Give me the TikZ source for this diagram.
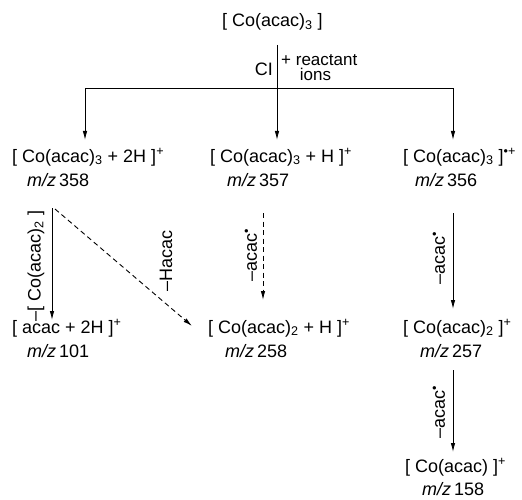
\documentclass[tikz,border=0pt]{standalone}
\usepackage{fontspec}
\setmainfont{Liberation Sans}
\usetikzlibrary{arrows.meta}

\tikzset{
  rx/.style={-{Latex[length=9pt,width=4.5pt]}, line width=0.9pt},
  rxd/.style={rx, dash pattern=on 5pt off 3.5pt},
  ion/.style={anchor=base west, inner sep=0pt, font=\fontsize{18}{21}\selectfont},
  loss/.style={rotate=90, inner sep=0pt, font=\fontsize{18}{21}\selectfont}
}
\newcommand{\mz}[1]{\textit{m/z}\,#1}

\begin{document}
\begin{tikzpicture}[x=1pt,y=-1pt]
    \useasboundingbox (0,0) rectangle (522,500);
    % species
    \node[ion] (co3) at (222,27) {[ Co(acac)\textsubscript{3} ]};
    \node[ion] (r358) at (12,162) {[ Co(acac)\textsubscript{3} + 2H ]\textsuperscript{+}};
    \node[ion] (m358) at (27,186) {\mz{358}};
    \node[ion] (r357) at (210,162) {[ Co(acac)\textsubscript{3} + H ]\textsuperscript{+}};
    \node[ion] (m357) at (227,186) {\mz{357}};
    \node[ion] (r356) at (403,162) {[ Co(acac)\textsubscript{3} ]\textsuperscript{\textbullet+}};
    \node[ion] (m356) at (415,186) {\mz{356}};
    \node[ion] (r101) at (12,333) {[ acac + 2H ]\textsuperscript{+}};
    \node[ion] (m101) at (27,357) {\mz{101}};
    \node[ion] (r258) at (208,333) {[ Co(acac)\textsubscript{2} + H ]\textsuperscript{+}};
    \node[ion] (m258) at (225,357) {\mz{258}};
    \node[ion] (r257) at (403,333) {[ Co(acac)\textsubscript{2} ]\textsuperscript{+}};
    \node[ion] (m257) at (420,357) {\mz{257}};
    \node[ion] (r158) at (405,472) {[ Co(acac) ]\textsuperscript{+}};
    \node[ion] (m158) at (422,495) {\mz{158}};

    % CI branching
    \coordinate (src) at (277,45);
    \coordinate (hub) at (277,88);
    \coordinate (t358) at (85,140);
    \coordinate (t357) at (277,140);
    \coordinate (t356) at (453,140);
    \draw[rx] (src) -- (t357);
    \draw[rx] (hub) -| (t358);
    \draw[rx] (hub) -| (t356);
    \node[anchor=base east, inner sep=0pt, font=\fontsize{18}{21}\selectfont] (ci) at (273,76) {CI};
    \node[anchor=base west, inner sep=0pt, align=left, font=\fontsize{17}{15.5}\selectfont] (react) at (281,81)
        {+ reactant\\\hspace*{1.1em}ions};

    % fragmentations
    \coordinate (s101) at (52,208);
    \coordinate (e101) at (52,320);
    \coordinate (sH) at (55,209);
    \coordinate (eH) at (192,326);
    \coordinate (s258) at (263,213);
    \coordinate (e258) at (263,300);
    \coordinate (s257) at (453,213);
    \coordinate (e257) at (453,309);
    \coordinate (s158) at (453,370);
    \coordinate (e158) at (453,452);
    \draw[rx] (s101) -- (e101);
    \draw[rxd] (sH) -- (eH);
    \draw[rxd] (s258) -- (e258);
    \draw[rx] (s257) -- (e257);
    \draw[rx] (s158) -- (e158);
    \node[loss] (l101) at (36,266) {--[ Co(acac)\textsubscript{2} ]};
    \node[loss] (lH) at (166,261) {--Hacac};
    \node[loss] (l258) at (251,255) {--acac\textsuperscript{\textbullet}};
    \node[loss] (l257) at (439,258) {--acac\textsuperscript{\textbullet}};
    \node[loss] (l158) at (439,412) {--acac\textsuperscript{\textbullet}};
\end{tikzpicture}
\end{document}
